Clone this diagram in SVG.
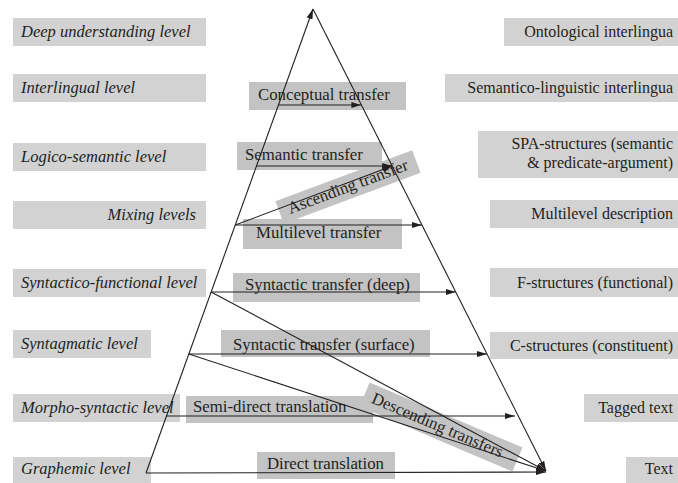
<svg xmlns="http://www.w3.org/2000/svg" width="678" height="483" viewBox="0 0 678 483">
<defs>
<marker id="ah" viewBox="0 0 10 6" refX="10" refY="3" markerWidth="10" markerHeight="6" markerUnits="userSpaceOnUse" orient="auto">
<path d="M0,0 L10,3 L0,6 Z" fill="#231f20"/>
</marker>
<style>
.bx{fill:#d2d2d2}
.mb{fill:#c3c3c3}
.t{font-family:"Liberation Serif","Times New Roman",serif;font-size:16px;fill:#231f20}
.i{font-style:italic;font-size:16.5px}
.c{font-size:16.8px}
.e{text-anchor:end}
.m{text-anchor:middle}
.ln{stroke:#231f20;stroke-width:1.1;fill:none}
</style>
</defs>
<rect width="678" height="483" fill="#ffffff"/>

<g id="left-levels">
<g id="l-deep"><rect class="bx" x="13" y="18" width="193" height="28"/><text class="t i" x="21" y="37">Deep understanding level</text></g>
<g id="l-interlingual"><rect class="bx" x="13" y="74" width="193" height="28"/><text class="t i" x="21" y="93">Interlingual level</text></g>
<g id="l-logico"><rect class="bx" x="13" y="143" width="193" height="28"/><text class="t i" x="21" y="162">Logico-semantic level</text></g>
<g id="l-mixing"><rect class="bx" x="13" y="201" width="193" height="28"/><text class="t i e" x="196" y="220">Mixing levels</text></g>
<g id="l-syntactico"><rect class="bx" x="13" y="269" width="193" height="28"/><text class="t i" x="21" y="288">Syntactico-functional level</text></g>
<g id="l-syntagmatic"><rect class="bx" x="13" y="330" width="138" height="28"/><text class="t i" x="21" y="349">Syntagmatic level</text></g>
<g id="l-morpho"><rect class="bx" x="13" y="394" width="167" height="28"/><text class="t i" x="21" y="413">Morpho-syntactic level</text></g>
<g id="l-graphemic"><rect class="bx" x="13" y="457" width="138" height="26"/><text class="t i" x="21" y="474">Graphemic level</text></g>
</g>

<g id="right-levels">
<g id="r-ontological"><rect class="bx" x="504" y="18" width="174" height="28"/><text class="t e" x="673" y="37">Ontological interlingua</text></g>
<g id="r-semantico"><rect class="bx" x="445" y="74" width="233" height="28"/><text class="t e" x="673" y="93">Semantico-linguistic interlingua</text></g>
<g id="r-spa"><rect class="bx" x="478" y="131" width="200" height="47"/><text class="t e" x="673" y="149">SPA-structures (semantic</text><text class="t e" x="673" y="168">&amp; predicate-argument)</text></g>
<g id="r-multilevel"><rect class="bx" x="490" y="200" width="188" height="28"/><text class="t e" x="673" y="219">Multilevel description</text></g>
<g id="r-f"><rect class="bx" x="490" y="268" width="188" height="29"/><text class="t e" x="673" y="288">F-structures (functional)</text></g>
<g id="r-c"><rect class="bx" x="490" y="332" width="188" height="27"/><text class="t e" x="673" y="351">C-structures (constituent)</text></g>
<g id="r-tagged"><rect class="bx" x="584" y="394" width="94" height="28"/><text class="t e" x="673" y="413">Tagged text</text></g>
<g id="r-text"><rect class="bx" x="626" y="457" width="52" height="26"/><text class="t e" x="673" y="474">Text</text></g>
</g>

<g id="transfers">
<g id="m-conceptual"><rect class="mb" x="249" y="82" width="157" height="28"/><text class="t c" x="258" y="100">Conceptual transfer</text></g>
<g id="m-semantic"><rect class="mb" x="237" y="142" width="145" height="28"/><text class="t c" x="245" y="160">Semantic transfer</text></g>
<g id="m-ascending" transform="translate(348,187) rotate(-20.5)"><rect class="mb" x="-73" y="-12" width="146" height="24"/><text class="t c m" x="0" y="5">Ascending transfer</text></g>
<g id="m-multilevel"><rect class="mb" x="243" y="219" width="159" height="30"/><text class="t c" x="256" y="238">Multilevel transfer</text></g>
<g id="m-deep"><rect class="mb" x="233" y="273" width="187" height="29"/><text class="t c" x="245" y="290">Syntactic transfer (deep)</text></g>
<g id="m-surface"><rect class="mb" x="221" y="330" width="209" height="27"/><text class="t c" x="233" y="350">Syntactic transfer (surface)</text></g>
<g id="m-semidirect"><rect class="mb" x="186" y="396" width="187" height="27"/><text class="t c" x="193" y="412">Semi-direct translation</text></g>
<g id="m-direct"><rect class="mb" x="257" y="452" width="138" height="27"/><text class="t c" x="267" y="469">Direct translation</text></g>
<g id="m-descending" transform="translate(441,427) rotate(23)"><rect class="mb" x="-83" y="-13" width="166" height="26"/><text class="t c m" x="-4" y="5">Descending transfers</text></g>
</g>

<g id="connectors">
<path class="ln" d="M146,473 L313,9" marker-end="url(#ah)"/>
<path class="ln" d="M313,9 L546,471" marker-end="url(#ah)"/>
<path class="ln" d="M146,473 L546,472" marker-end="url(#ah)"/>
<path class="ln" d="M278.4,105 L361.4,105" marker-end="url(#ah)"/>
<path class="ln" d="M256.5,166 L392.2,166" marker-end="url(#ah)"/>
<path class="ln" d="M235.3,225 L392.2,166" marker-end="url(#ah)"/>
<path class="ln" d="M235.3,225 L421.9,225" marker-end="url(#ah)"/>
<path class="ln" d="M211.1,292 L455.7,292" marker-end="url(#ah)"/>
<path class="ln" d="M188.8,354 L487,354" marker-end="url(#ah)"/>
<path class="ln" d="M166.5,416 L515,416" marker-end="url(#ah)"/>
<path class="ln" d="M211.1,292 L546,471" marker-end="url(#ah)"/>
<path class="ln" d="M188.8,354 L546,471" marker-end="url(#ah)"/>
</g>
</svg>
